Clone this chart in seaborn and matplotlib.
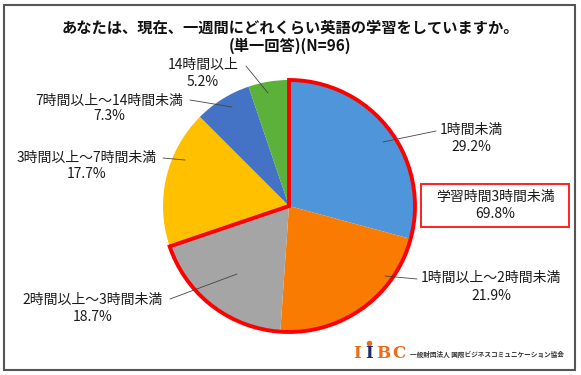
import matplotlib
matplotlib.use("Agg")
import matplotlib.pyplot as plt
from matplotlib.patches import Wedge, Rectangle
import seaborn as sns

# --- datos ---
categorias = ["1時間未満", "1時間以上～2時間未満", "2時間以上～3時間未満",
              "3時間以上～7時間未満", "7時間以上～14時間未満", "14時間以上"]
valores = [29.2, 21.9, 18.7, 17.7, 7.3, 5.2]
colores = ["#4E95D9", "#F97B02", "#A5A5A5", "#FFC000", "#4472C4", "#5BB13A"]

destacado_nombre = "学習時間3時間未満"
destacado_valor = 69.8

titulo_1 = "あなたは、現在、一週間にどれくらい英語の学習をしていますか。"
titulo_2 = "(単一回答)(N=96)"
organizacion = "一般財団法人 国際ビジネスコミュニケーション協会"

# --- estilo ---
sns.set_theme(style="white")
plt.rcParams['font.family'] = ['Noto Sans CJK JP', 'DejaVu Sans']

W, H = 581, 375
def Y(y):
    # coordenadas de pixel (origen arriba) -> coordenadas de datos
    return H - y

fig = plt.figure(figsize=(W / 100, H / 100), dpi=100, facecolor="white")
ax = fig.add_axes([0, 0, 1, 1])

cx, cy, r = 289, Y(206), 126
ax.pie(valores, colors=sns.color_palette(colores), startangle=90, counterclock=False,
       center=(cx, cy), radius=r, wedgeprops=dict(linewidth=0), frame=True)
ax.set_xlim(0, W)
ax.set_ylim(0, H)
ax.axis("off")

# borde rojo de los 3 primeros sectores
ax.add_patch(Wedge((cx, cy), r, 90 - destacado_valor * 3.6, 90, fill=False,
                   ec="#FF0000", lw=2.8, joinstyle="miter", zorder=5))

# etiquetas: (x, y linea 1, y linea 2, inicio guia, fin guia)
posiciones = [
    (471, 130, 147, (436, 131), (383, 142)),
    (491, 278, 296, (417, 279), (385, 276)),
    (93, 300, 317, (170, 299), (237, 274)),
    (87, 158, 174, (163, 158), (185, 160)),
    (109, 101, 116, (190, 100), (232, 107)),
    (203, 65, 82, (246, 66), (268, 93)),
]
for cat, val, (x, y1, y2, p0, p1) in zip(categorias, valores, posiciones):
    ax.text(x, Y(y1), cat, ha="center", va="center", fontsize=10, color="#1a1a1a")
    ax.text(x, Y(y2), f"{val:.1f}%", ha="center", va="center", fontsize=10, color="#1a1a1a")
    ax.plot([p0[0], p1[0]], [Y(p0[1]), Y(p1[1])], color="#444444", lw=0.6, zorder=6)

# caja del total destacado
ax.add_patch(Rectangle((421, Y(227)), 148, 43, fill=True, fc="white", ec="#FF2020", lw=1.4))
ax.text(495, Y(197), destacado_nombre, ha="center", va="center", fontsize=10, color="#1a1a1a")
ax.text(495, Y(214), f"{destacado_valor:.1f}%", ha="center", va="center", fontsize=10, color="#1a1a1a")

# titulo
ax.text(290, Y(27), titulo_1, ha="center", va="center", fontsize=11, fontweight="bold", color="#111111")
ax.text(290, Y(46), titulo_2, ha="center", va="center", fontsize=11, fontweight="bold", color="#111111")

# logo
naranja, azul = "#EE6A1A", "#1F2A6E"
for letra, lx, col in [("I", 357, naranja), ("I", 369, azul), ("B", 383, naranja), ("C", 399, naranja)]:
    ax.text(lx, Y(354), letra, ha="center", va="center", fontsize=12, fontweight="bold",
            family="DejaVu Serif", color=col)
ax.plot([369], [Y(343)], "o", color=naranja, ms=3)
ax.text(410, Y(354), organizacion, ha="left", va="center", fontsize=4.8, fontweight="bold", color="#333333")

# marco
ax.add_patch(Rectangle((4, Y(370)), 571, 365, fill=False, ec="#555555", lw=1.5))

fig.savefig("out.png", dpi=100, facecolor="white")
